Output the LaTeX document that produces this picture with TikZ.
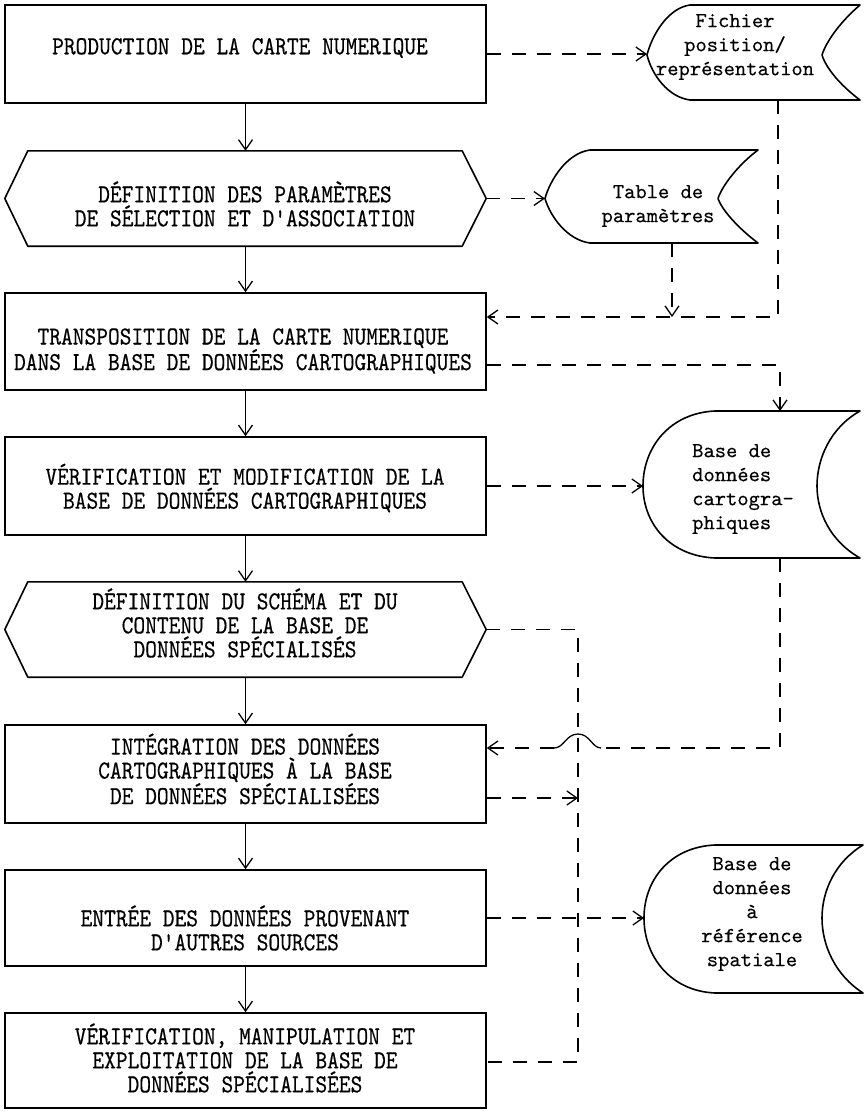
\documentclass[tikz,border=0pt]{standalone}
\usepackage{fontspec}
\usetikzlibrary{arrows.meta,calc}

% narrow typewriter face for the processing steps
\newfontfamily\procfont{lmmono10-regular}[Extension=.otf, FakeStretch=0.86, FakeBold=0.4]
\newfontfamily\filefont{lmmono10-regular}[Extension=.otf, FakeBold=0.3]

\tikzset{
  procbox/.style={draw, line width=1.6pt, minimum width=481pt, inner sep=0pt},
  hexnode/.style={minimum width=481pt, minimum height=95pt, inner sep=0pt},
  outline/.style={line width=1.6pt, line join=round},
  proctext/.style={font=\fontsize{26}{24}\selectfont\procfont, align=center, inner sep=0pt},
  filetext/.style={font=\fontsize{21.5}{24}\selectfont\filefont, align=center, inner sep=0pt},
  flow/.style={line width=1.3pt, -{Straight Barb[length=10pt,width=14pt,line width=1.3pt]}},
  dataline/.style={line width=1.3pt, dash pattern=on 14pt off 11pt},
  dataflow/.style={flow, dash pattern=on 14pt off 11pt},
  hopline/.style={line width=1.3pt},
}

\begin{document}
\begin{tikzpicture}[x=1pt, y=-1pt]
\useasboundingbox (0,0) rectangle (866,1112);

% ---------- processing steps (left column) ----------
\node[procbox, minimum height=98pt] (b1) at (245.5,54) {};
\node[hexnode] (h2) at (245.5,198.5) {};
\node[procbox, minimum height=97pt] (b3) at (245.5,341.5) {};
\node[procbox, minimum height=98pt] (b4) at (245.5,486) {};
\node[hexnode] (h5) at (245.5,629.5) {};
\node[procbox, minimum height=98pt] (b6) at (245.5,774) {};
\node[procbox, minimum height=96pt] (b7) at (245.5,918) {};
\node[procbox, minimum height=95pt] (b8) at (245.5,1060.5) {};

% hexagonal outlines of the two definition steps
\foreach \h in {h2,h5}{
  \draw[outline] (\h.west) -- ([xshift=23pt]\h.north west) -- ([xshift=-24pt]\h.north east)
    -- (\h.east) -- ([xshift=-24pt]\h.south east) -- ([xshift=23pt]\h.south west) -- cycle;
}

\node[proctext] (t1) at (240,48) {PRODUCTION DE LA CARTE NUMERIQUE};
\node[proctext] (t2) at (245,204) {DÉFINITION DES PARAMÈTRES\\DE SÉLECTION ET D'ASSOCIATION};
\node[proctext] (t3) at (243,351) {TRANSPOSITION DE LA CARTE NUMERIQUE\\DANS LA BASE DE DONNÉES CARTOGRAPHIQUES};
\node[proctext] (t4) at (245,488) {VÉRIFICATION ET MODIFICATION DE LA\\BASE DE DONNÉES CARTOGRAPHIQUES};
\node[proctext] (t5) at (245,623) {DÉFINITION DU SCHÉMA ET DU\\CONTENU DE LA BASE DE\\DONNÉES SPÉCIALISÉS};
\node[proctext] (t6) at (245,769) {INTÉGRATION DES DONNÉES\\CARTOGRAPHIQUES À LA BASE\\DE DONNÉES SPÉCIALISÉES};
\node[proctext] (t7) at (245,928) {ENTRÉE DES DONNÉES PROVENANT\\D'AUTRES SOURCES};
\node[proctext] (t8) at (245,1058) {VÉRIFICATION, MANIPULATION ET\\EXPLOITATION DE LA BASE DE\\DONNÉES SPÉCIALISÉES};

% ---------- stored data (right column) ----------
% position / representation file
\draw[outline] (860,5) -- (690,5) .. controls (668,8) and (652,35) .. (647,55)
  .. controls (652,75) and (668,97) .. (690,100) -- (860,100)
  .. controls (840,85) and (826,68) .. (822,55)
  .. controls (826,42) and (840,22) .. (860,5) -- cycle;
\node[filetext] (fich) at (735,47) {Fichier\\position/\\représentation};

% parameter table
\draw[outline] (758,150) -- (590,150) .. controls (567,153) and (550,180) .. (545,198.5)
  .. controls (550,216) and (567,240) .. (590,243) -- (758,243)
  .. controls (738,228) and (722,210) .. (718,198.5)
  .. controls (722,186) and (738,165) .. (758,150) -- cycle;
\node[filetext] (tab) at (658,206) {Table de\\paramètres};

% cartographic database
\draw[outline] (860,411) -- (715,411) .. controls (670,413) and (643,447) .. (643,486)
  .. controls (643,524) and (670,556) .. (715,558) -- (860,558)
  .. controls (830,541) and (817,512) .. (817,486)
  .. controls (817,459) and (830,428) .. (860,411) -- cycle;
\node[filetext, align=left, anchor=west] (db1) at (692,489) {Base de\\données\\cartogra-\\phiques};

% spatially referenced database
\draw[outline] (863,845) -- (715,845) .. controls (670,847) and (644,880) .. (644,918)
  .. controls (644,956) and (670,991) .. (715,993) -- (863,993)
  .. controls (835,975) and (822,945) .. (822,918)
  .. controls (822,891) and (835,862) .. (863,845) -- cycle;
\node[filetext] (db2) at (752,914) {Base de\\données\\à\\référence\\spatiale};

% connection points on the stored data outlines
\coordinate (fich-w) at (647,54);
\coordinate (fich-s) at (778,100);
\coordinate (fich-turn) at (778,317);
\coordinate (tab-w) at (545,198.5);
\coordinate (tab-s) at (672,243);
\coordinate (db1-n) at (780,411);
\coordinate (db1-in) at (780,365);
\coordinate (db1-w) at (643,486);
\coordinate (db1-s) at (780,558);
\coordinate (db1-turn) at (780,748);
\coordinate (hop-r) at (601,748);
\coordinate (hop-l) at (554,748);
\coordinate (bus-top) at (578,629.5);
\coordinate (bus-in) at (578,798);
\coordinate (bus-bot) at (578,1062);
\coordinate (db2-w) at (644,918);

% ---------- main sequence ----------
\draw[flow] (b1) -- (h2);
\draw[flow] (h2) -- (b3);
\draw[flow] (b3) -- (b4);
\draw[flow] (b4) -- (h5);
\draw[flow] (h5) -- (b6);
\draw[flow] (b6) -- (b7);
\draw[flow] (b7) -- (b8);

% ---------- data flows ----------
\draw[dataflow] (b1.east |- fich-w) -- (fich-w);
\draw[dataflow] (h2.east) -- (tab-w);
\draw[dataflow] (fich-s) -- (fich-turn) -- (b3.east |- fich-turn);
\draw[dataflow] (tab-s) -- (tab-s |- fich-turn);
\draw[dataflow] (b3.east |- db1-in) -- (db1-in) -- (db1-n);
\draw[dataflow] (b4.east |- db1-w) -- (db1-w);
% return flow with a hop over the vertical bus
\draw[dataline] (db1-s) -- (db1-turn) -- (hop-r);
\draw[hopline] (hop-r) .. controls (592,748) and (590,734) .. (578,734)
  .. controls (566,734) and (564,748) .. (hop-l);
\draw[dataflow] (hop-l) -- (b6.east |- hop-l);
\draw[dataline] (h5.east) -- (bus-top) -- (bus-bot) -- (b8.east |- bus-bot);
\draw[dataflow] (b6.east |- bus-in) -- (bus-in);
\draw[dataflow] (b7.east |- db2-w) -- (db2-w);
\end{tikzpicture}
\end{document}
